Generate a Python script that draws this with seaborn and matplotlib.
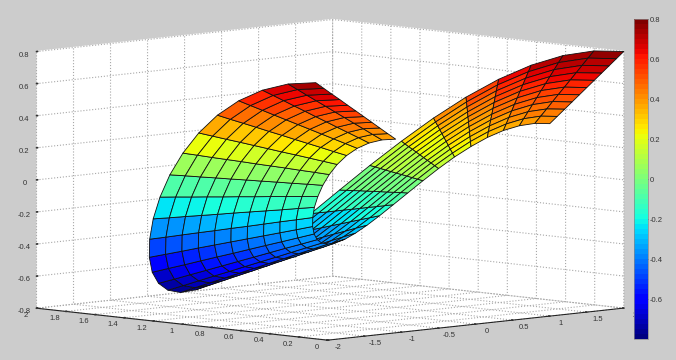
import matplotlib
matplotlib.use("Agg")
import matplotlib.pyplot as plt
import numpy as np
import seaborn as sns

# surface grid: one row per mesh line along the sheet, one column per line across it
x_grid = [
    [1.000, 1.100, 1.200, 1.300, 1.400, 1.500, 1.600, 1.700, 1.800, 1.900, 2.000],
    [0.995, 1.095, 1.194, 1.294, 1.393, 1.493, 1.592, 1.692, 1.791, 1.891, 1.990],
    [0.980, 1.078, 1.176, 1.274, 1.372, 1.470, 1.568, 1.666, 1.764, 1.862, 1.960],
    [0.955, 1.051, 1.146, 1.242, 1.337, 1.433, 1.528, 1.624, 1.720, 1.815, 1.911],
    [0.921, 1.013, 1.105, 1.197, 1.290, 1.382, 1.474, 1.566, 1.658, 1.750, 1.842],
    [0.878, 0.965, 1.053, 1.141, 1.229, 1.316, 1.404, 1.492, 1.580, 1.667, 1.755],
    [0.825, 0.908, 0.990, 1.073, 1.155, 1.238, 1.320, 1.403, 1.486, 1.568, 1.651],
    [0.765, 0.841, 0.918, 0.994, 1.071, 1.147, 1.224, 1.300, 1.377, 1.453, 1.530],
    [0.697, 0.766, 0.836, 0.906, 0.975, 1.045, 1.115, 1.184, 1.254, 1.324, 1.393],
    [0.622, 0.684, 0.746, 0.808, 0.870, 0.932, 0.995, 1.057, 1.119, 1.181, 1.243],
    [0.540, 0.594, 0.648, 0.702, 0.756, 0.810, 0.864, 0.919, 0.973, 1.027, 1.081],
    [0.454, 0.499, 0.544, 0.590, 0.635, 0.680, 0.726, 0.771, 0.816, 0.862, 0.907],
    [0.362, 0.399, 0.435, 0.471, 0.507, 0.544, 0.580, 0.616, 0.652, 0.689, 0.725],
    [0.268, 0.294, 0.321, 0.348, 0.375, 0.401, 0.428, 0.455, 0.482, 0.508, 0.535],
    [0.170, 0.187, 0.204, 0.221, 0.238, 0.255, 0.272, 0.289, 0.306, 0.323, 0.340],
    [0.071, 0.078, 0.085, 0.092, 0.099, 0.106, 0.113, 0.120, 0.127, 0.134, 0.141],
    [-0.029, -0.032, -0.035, -0.038, -0.041, -0.044, -0.047, -0.050, -0.053, -0.055, -0.058],
    [-0.129, -0.142, -0.155, -0.167, -0.180, -0.193, -0.206, -0.219, -0.232, -0.245, -0.258],
    [-0.227, -0.250, -0.273, -0.295, -0.318, -0.341, -0.364, -0.386, -0.409, -0.432, -0.454],
    [-0.323, -0.356, -0.388, -0.420, -0.453, -0.485, -0.517, -0.550, -0.582, -0.614, -0.647],
    [-0.416, -0.458, -0.499, -0.541, -0.583, -0.624, -0.666, -0.707, -0.749, -0.791, -0.832],
    [-0.505, -0.555, -0.606, -0.656, -0.707, -0.757, -0.808, -0.858, -0.909, -0.959, -1.010],
    [-0.589, -0.647, -0.706, -0.765, -0.824, -0.883, -0.942, -1.000, -1.059, -1.118, -1.177],
    [-0.666, -0.733, -0.800, -0.866, -0.933, -0.999, -1.066, -1.133, -1.199, -1.266, -1.333],
    [-0.737, -0.811, -0.885, -0.959, -1.032, -1.106, -1.180, -1.254, -1.327, -1.401, -1.475],
    [-0.801, -0.881, -0.961, -1.041, -1.122, -1.202, -1.282, -1.362, -1.442, -1.522, -1.602],
    [-0.857, -0.943, -1.028, -1.114, -1.200, -1.285, -1.371, -1.457, -1.542, -1.628, -1.714],
    [-0.904, -0.995, -1.085, -1.175, -1.266, -1.356, -1.447, -1.537, -1.627, -1.718, -1.808],
    [-0.942, -1.036, -1.131, -1.225, -1.319, -1.413, -1.508, -1.602, -1.696, -1.790, -1.884],
    [-0.971, -1.068, -1.165, -1.262, -1.359, -1.457, -1.554, -1.651, -1.748, -1.845, -1.942],
    [-0.990, -1.089, -1.188, -1.287, -1.386, -1.485, -1.584, -1.683, -1.782, -1.881, -1.980],
    [-0.999, -1.099, -1.199, -1.299, -1.399, -1.499, -1.599, -1.698, -1.798, -1.898, -1.998],
]
y_grid = [
    [0.000, 0.000, 0.000, 0.000, 0.000, 0.000, 0.000, 0.000, 0.000, 0.000, 0.000],
    [0.100, 0.110, 0.120, 0.130, 0.140, 0.150, 0.160, 0.170, 0.180, 0.190, 0.200],
    [0.199, 0.219, 0.238, 0.258, 0.278, 0.298, 0.318, 0.338, 0.358, 0.378, 0.397],
    [0.296, 0.325, 0.355, 0.384, 0.414, 0.443, 0.473, 0.502, 0.532, 0.561, 0.591],
    [0.389, 0.428, 0.467, 0.506, 0.545, 0.584, 0.623, 0.662, 0.701, 0.740, 0.779],
    [0.479, 0.527, 0.575, 0.623, 0.671, 0.719, 0.767, 0.815, 0.863, 0.911, 0.959],
    [0.565, 0.621, 0.678, 0.734, 0.790, 0.847, 0.903, 0.960, 1.016, 1.073, 1.129],
    [0.644, 0.709, 0.773, 0.837, 0.902, 0.966, 1.031, 1.095, 1.160, 1.224, 1.288],
    [0.717, 0.789, 0.861, 0.933, 1.004, 1.076, 1.148, 1.220, 1.291, 1.363, 1.435],
    [0.783, 0.862, 0.940, 1.018, 1.097, 1.175, 1.253, 1.332, 1.410, 1.488, 1.567],
    [0.841, 0.926, 1.010, 1.094, 1.178, 1.262, 1.346, 1.431, 1.515, 1.599, 1.683],
    [0.891, 0.980, 1.069, 1.159, 1.248, 1.337, 1.426, 1.515, 1.604, 1.693, 1.782],
    [0.932, 1.025, 1.118, 1.212, 1.305, 1.398, 1.491, 1.584, 1.678, 1.771, 1.864],
    [0.964, 1.060, 1.156, 1.253, 1.349, 1.445, 1.542, 1.638, 1.734, 1.831, 1.927],
    [0.985, 1.084, 1.182, 1.281, 1.380, 1.478, 1.577, 1.675, 1.774, 1.872, 1.971],
    [0.998, 1.097, 1.197, 1.297, 1.397, 1.496, 1.596, 1.696, 1.796, 1.895, 1.995],
    [1.000, 1.100, 1.200, 1.299, 1.399, 1.499, 1.599, 1.699, 1.799, 1.899, 1.999],
    [0.992, 1.091, 1.190, 1.289, 1.388, 1.488, 1.587, 1.686, 1.785, 1.884, 1.983],
    [0.974, 1.071, 1.169, 1.266, 1.363, 1.461, 1.558, 1.655, 1.753, 1.850, 1.948],
    [0.946, 1.041, 1.136, 1.230, 1.325, 1.419, 1.514, 1.609, 1.703, 1.798, 1.893],
    [0.909, 1.000, 1.091, 1.182, 1.273, 1.364, 1.455, 1.546, 1.637, 1.728, 1.819],
    [0.863, 0.950, 1.036, 1.122, 1.208, 1.295, 1.381, 1.467, 1.554, 1.640, 1.726],
    [0.809, 0.889, 0.970, 1.051, 1.132, 1.213, 1.294, 1.374, 1.455, 1.536, 1.617],
    [0.746, 0.820, 0.895, 0.969, 1.044, 1.119, 1.193, 1.268, 1.342, 1.417, 1.491],
    [0.676, 0.743, 0.811, 0.878, 0.946, 1.013, 1.081, 1.148, 1.216, 1.283, 1.351],
    [0.599, 0.658, 0.718, 0.778, 0.838, 0.898, 0.958, 1.017, 1.077, 1.137, 1.197],
    [0.516, 0.567, 0.619, 0.670, 0.722, 0.773, 0.825, 0.876, 0.928, 0.979, 1.031],
    [0.427, 0.470, 0.513, 0.556, 0.598, 0.641, 0.684, 0.727, 0.769, 0.812, 0.855],
    [0.335, 0.369, 0.402, 0.436, 0.469, 0.503, 0.536, 0.570, 0.603, 0.637, 0.670],
    [0.239, 0.263, 0.287, 0.311, 0.335, 0.359, 0.383, 0.407, 0.431, 0.454, 0.478],
    [0.141, 0.155, 0.169, 0.183, 0.198, 0.212, 0.226, 0.240, 0.254, 0.268, 0.282],
    [0.042, 0.046, 0.050, 0.054, 0.058, 0.062, 0.067, 0.071, 0.075, 0.079, 0.083],
]
z_grid = [
    [0.400, 0.440, 0.480, 0.520, 0.560, 0.600, 0.640, 0.680, 0.720, 0.760, 0.800],
    [0.392, 0.431, 0.470, 0.510, 0.549, 0.588, 0.627, 0.666, 0.706, 0.745, 0.784],
    [0.368, 0.405, 0.442, 0.479, 0.516, 0.553, 0.589, 0.626, 0.663, 0.700, 0.737],
    [0.330, 0.363, 0.396, 0.429, 0.462, 0.495, 0.528, 0.561, 0.594, 0.627, 0.660],
    [0.279, 0.307, 0.334, 0.362, 0.390, 0.418, 0.446, 0.474, 0.502, 0.530, 0.557],
    [0.216, 0.238, 0.259, 0.281, 0.303, 0.324, 0.346, 0.367, 0.389, 0.411, 0.432],
    [0.145, 0.159, 0.174, 0.188, 0.203, 0.217, 0.232, 0.246, 0.261, 0.275, 0.290],
    [0.068, 0.075, 0.082, 0.088, 0.095, 0.102, 0.109, 0.116, 0.122, 0.129, 0.136],
    [-0.012, -0.013, -0.014, -0.015, -0.016, -0.018, -0.019, -0.020, -0.021, -0.022, -0.023],
    [-0.091, -0.100, -0.109, -0.118, -0.127, -0.136, -0.145, -0.154, -0.164, -0.173, -0.182],
    [-0.166, -0.183, -0.200, -0.216, -0.233, -0.250, -0.266, -0.283, -0.300, -0.316, -0.333],
    [-0.235, -0.259, -0.282, -0.306, -0.330, -0.353, -0.377, -0.400, -0.424, -0.447, -0.471],
    [-0.295, -0.324, -0.354, -0.383, -0.413, -0.442, -0.472, -0.501, -0.531, -0.560, -0.590],
    [-0.343, -0.377, -0.411, -0.446, -0.480, -0.514, -0.548, -0.583, -0.617, -0.651, -0.686],
    [-0.377, -0.415, -0.452, -0.490, -0.528, -0.565, -0.603, -0.641, -0.678, -0.716, -0.754],
    [-0.396, -0.436, -0.475, -0.515, -0.554, -0.594, -0.634, -0.673, -0.713, -0.752, -0.792],
    [-0.399, -0.439, -0.479, -0.519, -0.559, -0.599, -0.639, -0.679, -0.719, -0.759, -0.799],
    [-0.387, -0.425, -0.464, -0.503, -0.541, -0.580, -0.619, -0.657, -0.696, -0.735, -0.773],
    [-0.359, -0.395, -0.430, -0.466, -0.502, -0.538, -0.574, -0.610, -0.646, -0.682, -0.717],
    [-0.316, -0.348, -0.380, -0.411, -0.443, -0.475, -0.506, -0.538, -0.570, -0.601, -0.633],
    [-0.261, -0.288, -0.314, -0.340, -0.366, -0.392, -0.418, -0.444, -0.471, -0.497, -0.523],
    [-0.196, -0.216, -0.235, -0.255, -0.275, -0.294, -0.314, -0.333, -0.353, -0.373, -0.392],
    [-0.123, -0.135, -0.148, -0.160, -0.172, -0.184, -0.197, -0.209, -0.221, -0.234, -0.246],
    [-0.045, -0.049, -0.054, -0.058, -0.063, -0.067, -0.072, -0.076, -0.081, -0.085, -0.090],
    [0.035, 0.039, 0.042, 0.046, 0.049, 0.053, 0.056, 0.060, 0.063, 0.067, 0.070],
    [0.113, 0.125, 0.136, 0.148, 0.159, 0.170, 0.182, 0.193, 0.204, 0.216, 0.227],
    [0.187, 0.206, 0.225, 0.244, 0.262, 0.281, 0.300, 0.319, 0.337, 0.356, 0.375],
    [0.254, 0.279, 0.305, 0.330, 0.355, 0.381, 0.406, 0.432, 0.457, 0.482, 0.508],
    [0.310, 0.341, 0.372, 0.403, 0.434, 0.465, 0.496, 0.527, 0.558, 0.589, 0.620],
    [0.354, 0.390, 0.425, 0.460, 0.496, 0.531, 0.567, 0.602, 0.638, 0.673, 0.708],
    [0.384, 0.422, 0.461, 0.499, 0.538, 0.576, 0.615, 0.653, 0.691, 0.730, 0.768],
    [0.399, 0.438, 0.478, 0.518, 0.558, 0.598, 0.638, 0.678, 0.717, 0.757, 0.797],
]

x_ticks = [-2, -1.5, -1, -0.5, 0, 0.5, 1, 1.5, 2]
x_labels = ["-2", "-1.5", "-1", "-0.5", "0", "0.5", "1", "1.5", "2"]
y_ticks = [0, 0.2, 0.4, 0.6, 0.8, 1, 1.2, 1.4, 1.6, 1.8, 2]
y_labels = ["0", "0.2", "0.4", "0.6", "0.8", "1", "1.2", "1.4", "1.6", "1.8", "2"]
z_ticks = [-0.8, -0.6, -0.4, -0.2, 0, 0.2, 0.4, 0.6, 0.8]
z_labels = ["-0.8", "-0.6", "-0.4", "-0.2", "0", "0.2", "0.4", "0.6", "0.8"]
bar_ticks = [-0.6, -0.4, -0.2, 0, 0.2, 0.4, 0.6, 0.8]
bar_labels = ["-0.6", "-0.4", "-0.2", "0", "0.2", "0.4", "0.6", "0.8"]

sns.set_theme(style="white")
plt.rcParams["font.family"] = ["Liberation Sans", "DejaVu Sans"]

jet = plt.get_cmap("jet").resampled(64)
norm = matplotlib.colors.Normalize(-0.8, 0.8)

fig = plt.figure(figsize=(6.76, 3.6), dpi=100, facecolor="#cccccc")
# big square axes, the box is scaled down inside it so nothing gets clipped
ax = fig.add_axes([(318 - 450) / 676, (168 - 450) / 360, 900 / 676, 900 / 360], projection="3d")
ax.patch.set_alpha(0)
ax.set_proj_type("ortho")
ax.view_init(elev=6.26, azim=-134.8)
ax.set_box_aspect((417, 413, 258), zoom=0.692)

z_values = np.array(z_grid)
# each cell takes the colour of its first corner, as the faceted surface does
surf = ax.plot_surface(np.array(x_grid), np.array(y_grid), z_values, rstride=1, cstride=1,
                       facecolors=jet(norm(z_values)), shade=False, linewidth=0.6, antialiased=True)
surf.set_edgecolor("#101010")

ax.set_xlim(-2, 2, view_margin=0)
ax.set_ylim(0, 2, view_margin=0)
ax.set_zlim(-0.8, 0.8, view_margin=0)
ax.set_xticks(x_ticks, x_labels)
ax.set_yticks(y_ticks, y_labels)
ax.set_zticks(z_ticks, z_labels)
ax.tick_params(labelsize=5.5, colors="#333333", pad=4.5, length=2)
ax.tick_params(axis="z", pad=-1)

for axis in [ax.xaxis, ax.yaxis, ax.zaxis]:
    axis.set_pane_color("white")
    axis.pane.set_edgecolor("white")
    axis._axinfo["grid"].update(color="#a8a8a8", linestyle=":", linewidth=0.8)
    axis._axinfo["tick"]["inward_factor"] = 0.0
    axis._axinfo["tick"]["outward_factor"] = 0.05
    axis.line.set_color("#222222")
    axis.line.set_linewidth(0.8)
ax.zaxis.line.set_linewidth(0)
for tick in ax.xaxis.get_major_ticks() + ax.yaxis.get_major_ticks():
    tick.label1.set_va("bottom")

cax = fig.add_axes([634 / 676, (360 - 339) / 360, 14 / 676, 320 / 360])
cbar = fig.colorbar(matplotlib.cm.ScalarMappable(norm=norm, cmap=jet), cax=cax)
cbar.set_ticks(bar_ticks, labels=bar_labels)
cbar.ax.tick_params(labelsize=5.5, colors="#333333", direction="in", length=2, width=0.6, left=True, right=True, pad=1)
cbar.outline.set_linewidth(0.5)
cbar.outline.set_edgecolor("#888888")

fig.savefig("out.png", dpi=100, facecolor=fig.get_facecolor())
